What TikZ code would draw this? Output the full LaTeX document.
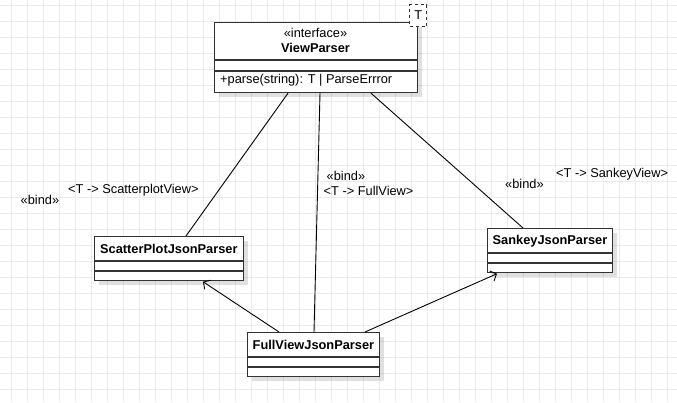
\documentclass[tikz,border=0pt]{standalone}
\usepackage{fontspec}
\setmainfont{Liberation Sans}
\usetikzlibrary{calc,arrows.meta,shadows}
\definecolor{gridc}{HTML}{EBEBEB}
\definecolor{boxline}{HTML}{333333}
\begin{document}
\begin{tikzpicture}[x=1pt,y=-1pt,
  umlbox/.style={draw=boxline, line width=1.2pt, fill=white, inner sep=0pt, anchor=north west,
    drop shadow={shadow xshift=4pt, shadow yshift=-4pt, fill=black, opacity=0.12}},
  txt/.style={inner sep=0pt, font=\fontsize{12.8}{15}\selectfont},
  btxt/.style={txt, font=\fontsize{12.8}{15}\selectfont\bfseries},
  conn/.style={draw=black, line width=0.9pt},
  arr/.style={conn, -{Straight Barb[length=5pt,width=11pt,line width=0.9pt]}},
  divl/.style={draw=boxline, line width=1.2pt}
]
\useasboundingbox (0,0) rectangle (677,402);
\fill[white] (0,0) rectangle (677,402);
% grid
\foreach \gx in {0,...,41} { \draw[gridc, line width=0.8pt] (11.3+16*\gx,0) -- (11.3+16*\gx,402); }
\foreach \gy in {0,...,25} { \draw[gridc, line width=0.8pt] (0,5+16*\gy) -- (677,5+16*\gy); }

% ViewParser
\node[umlbox, minimum width=203pt, minimum height=70pt] (vp) at (214,22) {};
\draw[divl] (214,60) -- (417,60);
\draw[divl] (214,71) -- (417,71);
\node[txt] (vps) at (315.5,33) {«interface»};
\node[btxt] (vpn) at (315.5,47.5) {ViewParser};
\node[txt, anchor=west] (vpm) at (220,80.5) {+parse(string): T | ParseErrror};
% template parameter
\node[draw=boxline, dashed, line width=1pt, fill=white, inner sep=0pt, anchor=north west,
  minimum width=17pt, minimum height=22pt] (tp) at (409.3,4) {};
\node[txt] (tpt) at (tp.center) {T};

% ScatterPlotJsonParser
\node[umlbox, minimum width=149pt, minimum height=44pt] (sc) at (94,236) {};
\draw[divl] (94,261) -- (243,261);
\draw[divl] (94,271) -- (243,271);
\node[btxt, anchor=west] (scn) at (100,249) {ScatterPlotJsonParser};

% FullViewJsonParser
\node[umlbox, minimum width=132pt, minimum height=44pt] (fv) at (247,332) {};
\draw[divl] (247,357) -- (379,357);
\draw[divl] (247,367) -- (379,367);
\node[btxt, anchor=west] (fvn) at (252.5,345) {FullViewJsonParser};

% SankeyJsonParser
\node[umlbox, minimum width=125pt, minimum height=44pt] (sk) at (487,228) {};
\draw[divl] (487,253) -- (612,253);
\draw[divl] (487,263) -- (612,263);
\node[btxt, anchor=west] (skn) at (492.5,241) {SankeyJsonParser};

% connectors
\draw[conn] ($(vp.south west)+(74,0)$) -- ($(sc.north west)+(92,0)$);
\draw[conn] ($(vp.south west)+(106,0)$) -- ($(fv.north west)+(67,0)$);
\draw[conn] ($(vp.south west)+(157,0)$) -- ($(sk.north west)+(36,0)$);
\draw[arr] ($(fv.north west)+(32,0)$) -- ($(sc.south west)+(109,0.5)$);
\draw[arr] ($(fv.north west)+(118,0)$) -- ($(sk.south west)+(10,0.5)$);

% labels
\node[txt, anchor=west] (b1) at (20.5,200) {«bind»};
\node[txt, anchor=west] (l1) at (68,190) {<T -> ScatterplotView>};
\node[txt, anchor=west] (b2) at (326.5,176) {«bind»};
\node[txt, anchor=west] (l2) at (323.5,190.5) {<T -> FullView>};
\node[txt, anchor=west] (b3) at (505,184) {«bind»};
\node[txt, anchor=west] (l3) at (556,174) {<T -> SankeyView>};
\end{tikzpicture}
\end{document}
